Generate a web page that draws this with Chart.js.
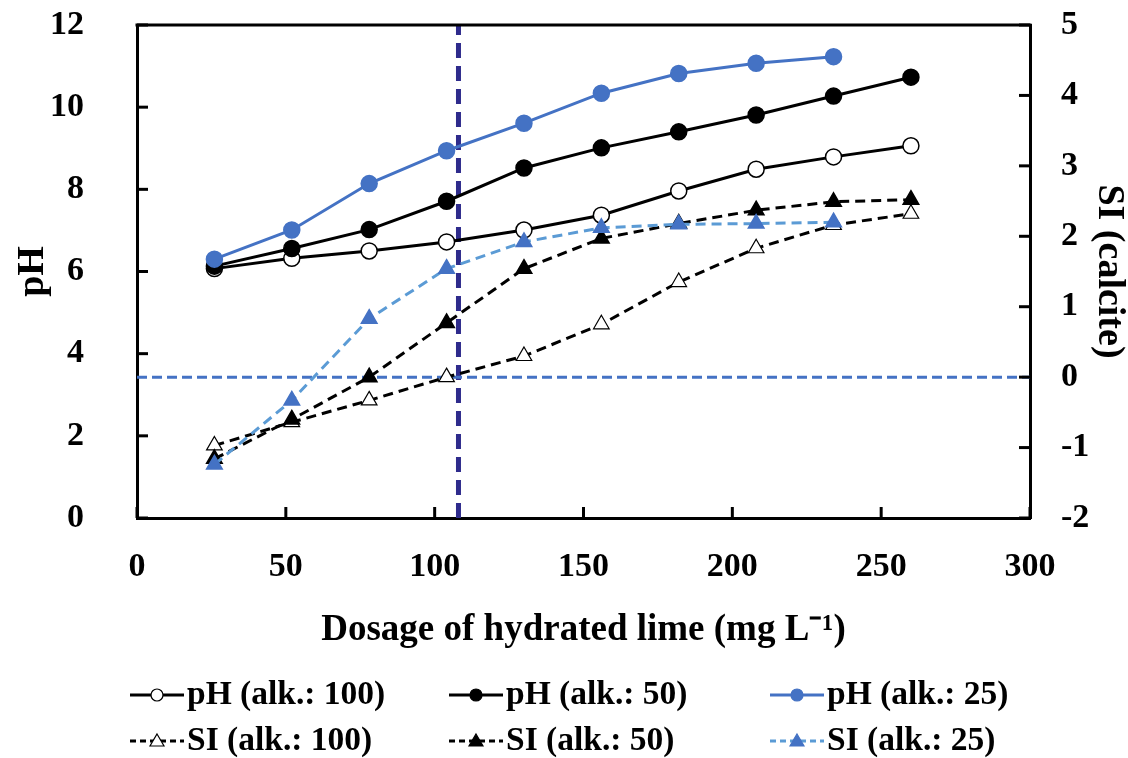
<!DOCTYPE html>
<html>
<head>
<meta charset="utf-8">
<script src="https://cdn.jsdelivr.net/npm/chart.js@4.4.0/dist/chart.umd.min.js"></script>
<style>
  html, body { margin: 0; padding: 0; background: #fff; }
  #quadro { width: 1128px; height: 758px; }
</style>
</head>
<body>
<div id="quadro"><canvas id="grafico"></canvas></div>
<script>
// Dados
const dosagem = [26, 52, 78, 104, 130, 156, 182, 208, 234, 260];
const phAlk100 = [6.07, 6.32, 6.50, 6.72, 7.01, 7.37, 7.96, 8.49, 8.79, 9.06];
const phAlk50 = [6.13, 6.56, 7.02, 7.71, 8.52, 9.01, 9.40, 9.81, 10.27, 10.73];
const phAlk25 = [6.30, 7.01, 8.14, 8.94, 9.61, 10.34, 10.82, 11.07, 11.23];
const siAlk100 = [-0.97, -0.64, -0.33, 0.00, 0.30, 0.75, 1.35, 1.83, 2.16, 2.32];
const siAlk50 = [-1.16, -0.60, 0.00, 0.77, 1.54, 1.97, 2.18, 2.37, 2.49, 2.52];
const siAlk25 = [-1.24, -0.33, 0.83, 1.54, 1.92, 2.12, 2.17, 2.18, 2.20];
const doseLimite = 108;
const siEquilibrio = 0;
const faixaX = [0, 300];
const faixaPh = [0, 12];
const faixaSi = [-2, 5];

const fonte = "'Liberation Serif', 'Times New Roman', serif";
const azul = '#4472C4';
const azulClaro = '#5B9BD5';
const marinho = '#2E2B8C';

const pontos = (valores) => valores.map((v, i) => ({ x: dosagem[i], y: v }));

function serie(label, valores, eixo, opc) {
  return Object.assign({
    label,
    data: pontos(valores),
    yAxisID: eixo,
    borderWidth: 3,
    pointRadius: 8,
    pointHoverRadius: 8,
    pointBorderWidth: 1.5,
    tension: 0
  }, opc);
}

const datasets = [
  serie('pH (alk.: 100)', phAlk100, 'y', {
    borderColor: '#000', pointStyle: 'circle', pointBackgroundColor: '#fff', pointBorderColor: '#000', order: 6
  }),
  serie('pH (alk.: 50)', phAlk50, 'y', {
    borderColor: '#000', pointStyle: 'circle', pointBackgroundColor: '#000', pointBorderColor: '#000', order: 5
  }),
  serie('pH (alk.: 25)', phAlk25, 'y', {
    borderColor: azul, pointStyle: 'circle', pointBackgroundColor: azul, pointBorderColor: azul, order: 4
  }),
  serie('SI (alk.: 100)', siAlk100, 'y2', {
    borderColor: '#000', borderDash: [10, 6], pointStyle: 'triangle', pointRadius: 9, pointHoverRadius: 9,
    pointBackgroundColor: '#fff', pointBorderColor: '#000', pointBorderWidth: 1.2, order: 3
  }),
  serie('SI (alk.: 50)', siAlk50, 'y2', {
    borderColor: '#000', borderDash: [10, 6], pointStyle: 'triangle', pointRadius: 9, pointHoverRadius: 9,
    pointBackgroundColor: '#000', pointBorderColor: '#000', order: 2
  }),
  serie('SI (alk.: 25)', siAlk25, 'y2', {
    borderColor: azulClaro, borderDash: [10, 6], pointStyle: 'triangle', pointRadius: 9, pointHoverRadius: 9,
    pointBackgroundColor: azul, pointBorderColor: azul, order: 1
  }),
  // linhas de referência
  {
    label: 'ref-dose', data: [{ x: doseLimite, y: faixaPh[0] }, { x: doseLimite, y: faixaPh[1] }],
    yAxisID: 'y', borderColor: marinho, borderWidth: 5, borderDash: [15, 8], pointRadius: 0, order: 10
  },
  {
    label: 'ref-si', data: [{ x: faixaX[0], y: siEquilibrio }, { x: faixaX[1], y: siEquilibrio }],
    yAxisID: 'y2', borderColor: azul, borderWidth: 3, borderDash: [10, 5], pointRadius: 0, order: 9
  }
];

// Marcas dos eixos para dentro + borda superior
const marcasInternas = {
  id: 'marcasInternas',
  afterDraw(chart) {
    const { ctx, chartArea: a, scales } = chart;
    const linha = (x1, y1, x2, y2) => { ctx.beginPath(); ctx.moveTo(x1, y1); ctx.lineTo(x2, y2); ctx.stroke(); };
    ctx.save();
    ctx.strokeStyle = '#000';
    ctx.lineWidth = 3;
    linha(a.left - 1.5, a.top, a.right + 1.5, a.top);
    scales.x.ticks.forEach(t => { const p = scales.x.getPixelForValue(t.value); linha(p, a.bottom, p, a.bottom - 11); });
    scales.y.ticks.forEach(t => { const p = scales.y.getPixelForValue(t.value); linha(a.left, p, a.left + 11, p); });
    scales.y2.ticks.forEach(t => { const p = scales.y2.getPixelForValue(t.value); linha(a.right, p, a.right - 11, p); });
    ctx.restore();
  }
};

// Legenda desenhada abaixo do gráfico (2 linhas x 3 colunas)
const legendaPropria = {
  id: 'legendaPropria',
  afterDraw(chart) {
    const { ctx } = chart;
    const colunas = [130, 449, 770];
    const linhas = [695, 741];
    ctx.save();
    ctx.font = 'bold 33.5px ' + fonte;
    ctx.textBaseline = 'middle';
    chart.data.datasets.slice(0, 6).forEach((ds, i) => {
      const x = colunas[i % 3];
      const y = linhas[Math.floor(i / 3)];
      ctx.strokeStyle = ds.borderColor;
      ctx.lineWidth = 3;
      ctx.setLineDash(ds.borderDash ? [6, 4] : []);
      ctx.beginPath(); ctx.moveTo(x, y); ctx.lineTo(x + 54, y); ctx.stroke();
      ctx.setLineDash([]);
      ctx.fillStyle = ds.pointBackgroundColor;
      ctx.strokeStyle = ds.pointBorderColor;
      ctx.lineWidth = 1.2;
      const cx = x + 27;
      ctx.beginPath();
      if (ds.pointStyle === 'circle') {
        ctx.arc(cx, y, 6, 0, Math.PI * 2);
      } else {
        ctx.moveTo(cx, y - 7); ctx.lineTo(cx + 7, y + 5); ctx.lineTo(cx - 7, y + 5); ctx.closePath();
      }
      ctx.fill(); ctx.stroke();
      ctx.fillStyle = '#000';
      ctx.fillText(ds.label, x + 57, y);
    });
    ctx.restore();
  }
};

const fonteTick = { family: fonte, size: 34, weight: 'bold' };
const fonteTitulo = { family: fonte, size: 38, weight: 'bold' };
// marcas invisíveis só para afastar os rótulos do eixo
const gradeInvisivel = (comprimento) => ({
  display: true, drawOnChartArea: false, drawTicks: true,
  tickLength: comprimento, tickColor: 'rgba(0,0,0,0)'
});

new Chart(document.getElementById('grafico'), {
  type: 'line',
  data: { datasets },
  options: {
    responsive: true,
    maintainAspectRatio: false,
    animation: false,
    layout: { padding: { top: 25, bottom: 105, left: 0, right: 0 } },
    plugins: { legend: { display: false }, tooltip: { enabled: false } },
    scales: {
      x: {
        type: 'linear', min: faixaX[0], max: faixaX[1],
        ticks: { stepSize: 50, padding: 21, color: '#000', font: fonteTick, maxRotation: 0 },
        grid: { display: false },
        border: { color: '#000', width: 3 },
        title: { display: true, text: 'Dosage of hydrated lime (mg L\u207B\u00B9)', color: '#000', font: { family: fonte, size: 37, weight: 'bold' }, padding: { top: 0, bottom: 0 } },
        afterFit(s) { s.height = 135; }
      },
      y: {
        position: 'left', min: faixaPh[0], max: faixaPh[1],
        ticks: { stepSize: 2, padding: 4, color: '#000', font: fonteTick },
        grid: gradeInvisivel(49),
        border: { color: '#000', width: 3 },
        title: { display: true, text: 'pH', color: '#000', font: fonteTitulo, padding: { top: 10, bottom: 0 } },
        afterFit(s) { s.width = 137; }
      },
      y2: {
        position: 'right', min: faixaSi[0], max: faixaSi[1],
        ticks: { stepSize: 1, padding: 4, color: '#000', font: fonteTick },
        grid: gradeInvisivel(27),
        border: { color: '#000', width: 3 },
        title: { display: true, text: 'SI (calcite)', color: '#000', font: fonteTitulo, padding: { top: -4, bottom: 0 } },
        afterFit(s) { s.width = 98; }
      }
    }
  },
  plugins: [marcasInternas, legendaPropria]
});
</script>
</body>
</html>
